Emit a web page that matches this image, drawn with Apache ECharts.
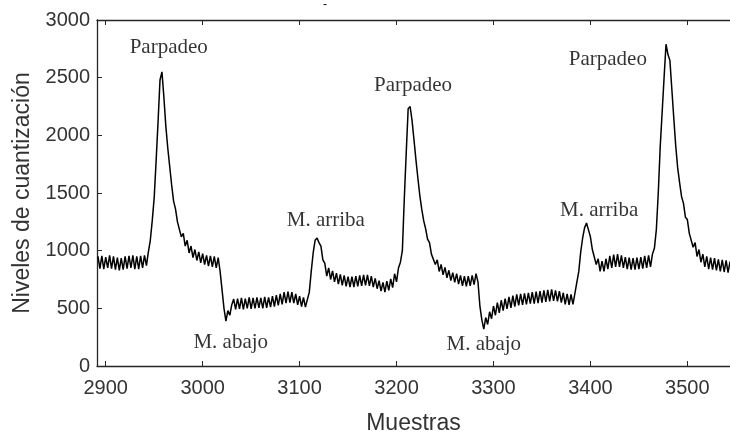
<!DOCTYPE html>
<html>
<head>
<meta charset="utf-8">
<script src="https://cdn.jsdelivr.net/npm/echarts@6/dist/echarts.min.js"></script>
<style>
  html, body { margin: 0; padding: 0; background: #fff; }
  #chart { width: 730px; height: 433px; }
</style>
</head>
<body>
<div id="chart"></div>
<script>
// muestras cada 2 puntos
const paso = 2;

const baseInicial = [950, 845, 955, 840, 945, 850, 960, 845, 950, 835, 940, 830, 935, 835, 950, 845, 955, 850, 960, 840, 950, 840, 955, 850, 960, 870, 990];
const parpadeo1 = [1090, 1260, 1460, 1780, 2120, 2480, 2550, 2330, 2080, 1890, 1730, 1570, 1430, 1360, 1250, 1240, 1120, 1150, 1040, 1090, 980, 1040, 940, 1010, 915, 990, 895, 975, 880, 960, 865, 955, 860, 950, 850, 940, 820, 660, 500, 390, 480, 440, 530];
const abajo1 = [580, 490, 585, 495, 590, 490, 585, 500, 595, 495, 590, 500, 595, 505, 590, 500, 600, 505, 595, 510, 605, 515, 615, 525, 625, 535, 640, 545, 645, 550, 640, 545, 625, 530, 605, 515, 595, 510, 575];
const arriba1 = [640, 820, 980, 1090, 1110, 1070, 1040, 920, 890, 780, 850, 750, 825, 730, 805, 710, 795, 700, 785, 690, 775, 685, 775, 685, 780, 690, 785, 695, 790, 700, 790, 695, 780, 685, 760, 670, 740, 650, 725, 640, 735, 655, 755, 680, 800, 730, 850, 900];
const parpadeo2 = [1000, 1450, 1850, 2230, 2250, 2130, 1960, 1790, 1630, 1480, 1360, 1260, 1190, 1100, 1070, 970, 980, 880, 920, 820, 880, 790, 855, 765, 830, 740, 810, 725, 800, 710, 785, 695, 780, 690, 780, 695, 785, 705, 800, 730];
const abajo2 = [520, 400, 320, 420, 360, 470, 410, 520, 440, 550, 460, 570, 480, 585, 495, 600, 505, 610, 515, 620, 525, 625, 530, 630, 535, 635, 540, 640, 540, 645, 545, 650, 550, 655, 555, 660, 560, 665, 565, 655, 560, 650, 550, 635, 535, 625, 530, 620, 535, 630];
const arriba2 = [640, 820, 990, 1110, 1200, 1240, 1180, 1120, 1010, 1000, 880, 930, 820, 910, 820, 930, 840, 955, 850, 965, 860, 970, 860, 960, 850, 945, 840, 940, 835, 935, 835, 940, 840, 945, 845, 955, 850, 960, 860, 970];
const parpadeo3 = [1020, 1180, 1500, 1900, 2200, 2500, 2790, 2700, 2650, 2400, 2150, 1910, 1720, 1590, 1470, 1410, 1290, 1270, 1150, 1160, 1030, 1070, 950, 1010, 900, 970, 860, 950, 840, 940, 835, 935, 830, 925, 820, 920, 815, 915, 810, 905];

// primera muestra de cada tramo
const inicios = [2892, 2946, 3032, 3110, 3206, 3286, 3386, 3466];
const tramos = [baseInicial, parpadeo1, abajo1, arriba1, parpadeo2, abajo2, arriba2, parpadeo3];

const ticksX = [2900, 3000, 3100, 3200, 3300, 3400, 3500];

const etiquetas = ['Parpadeo', 'M. abajo', 'M. arriba', 'Parpadeo', 'M. abajo', 'M. arriba', 'Parpadeo'];
const etiquetasX = [2965, 3029, 3127, 3217, 3290, 3409, 3418];
const etiquetasY = [2763, 204, 1262, 2433, 186, 1349, 2658];

const senal = [];
tramos.forEach((valores, t) => {
  valores.forEach((v, i) => senal.push([inicios[t] + i * paso, v]));
});

const colorEje = '#262626';
const fuenteEje = 'Liberation Sans';

const chart = echarts.init(document.getElementById('chart'));
chart.setOption({
  animation: false,
  title: {
    text: '-',
    left: 318,
    top: -6,
    textStyle: { fontSize: 12, fontWeight: 'normal', color: '#000' }
  },
  grid: { left: 97, right: 0, top: 20, bottom: 67, outerBoundsMode: 'none' },
  xAxis: [{
    type: 'value',
    min: 2891,
    max: 3544,
    name: 'Muestras',
    nameLocation: 'middle',
    nameGap: 46,
    nameTextStyle: { fontFamily: fuenteEje, fontSize: 23, color: '#333' },
    axisLine: { lineStyle: { color: colorEje, width: 1.3 } },
    axisTick: { inside: true, length: 5, customValues: ticksX, lineStyle: { color: colorEje } },
    axisLabel: { customValues: ticksX, formatter: v => String(v), fontFamily: fuenteEje, fontSize: 20, color: '#333', margin: 12 },
    splitLine: { show: false }
  }, {
    type: 'value',
    position: 'top',
    min: 2891,
    max: 3544,
    axisLine: { lineStyle: { color: colorEje, width: 1.3 } },
    axisTick: { inside: true, length: 5, customValues: ticksX, lineStyle: { color: colorEje } },
    axisLabel: { show: false },
    splitLine: { show: false }
  }],
  yAxis: {
    type: 'value',
    min: 0,
    max: 3000,
    interval: 500,
    name: 'Niveles de cuantización',
    nameLocation: 'middle',
    nameGap: 55,
    nameTextStyle: { fontFamily: fuenteEje, fontSize: 23, color: '#333' },
    axisLine: { show: true, lineStyle: { color: colorEje, width: 1.3 } },
    axisTick: { show: true, inside: true, length: 5, lineStyle: { color: colorEje } },
    axisLabel: { formatter: v => String(v), fontFamily: fuenteEje, fontSize: 20, color: '#333', margin: 7 },
    splitLine: { show: false }
  },
  series: [{
    type: 'line',
    data: senal,
    showSymbol: false,
    lineStyle: { color: '#000', width: 1.5 }
  }, {
    type: 'scatter',
    data: etiquetas.map((e, i) => ({ name: e, value: [etiquetasX[i], etiquetasY[i]] })),
    symbolSize: 1,
    itemStyle: { color: 'rgba(0,0,0,0)' },
    label: {
      show: true,
      position: 'inside',
      formatter: p => p.name,
      fontFamily: 'Liberation Serif',
      fontSize: 21,
      color: '#000'
    }
  }]
});
</script>
</body>
</html>
